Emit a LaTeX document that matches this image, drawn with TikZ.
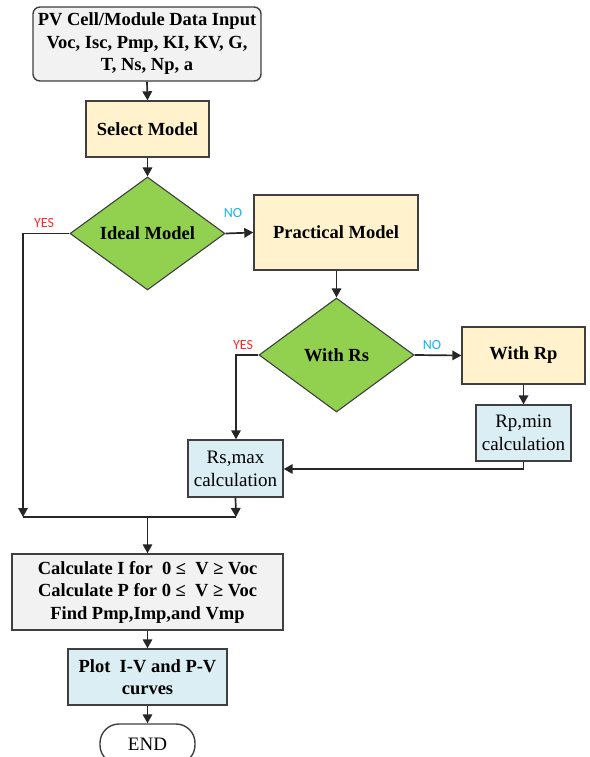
\documentclass[tikz,border=0pt]{standalone}
\usepackage{fontspec}
\setmainfont{Liberation Serif}
\newfontfamily\labfont{Carlito}
\usetikzlibrary{shapes.geometric,arrows.meta}
\definecolor{grayfill}{HTML}{F2F2F2}
\definecolor{cream}{HTML}{FFF2CC}
\definecolor{leaf}{HTML}{92D050}
\definecolor{pale}{HTML}{DAEEF3}
\definecolor{edge}{HTML}{3F3F3F}
\definecolor{yescol}{HTML}{FF2B2B}
\definecolor{nocol}{HTML}{14B4F0}
\tikzset{
  box/.style={draw=edge, line width=1.4pt, rectangle, inner sep=0pt, align=center,
    font=\fontsize{18.5}{22.5}\selectfont\bfseries},
  calcbox/.style={box, font=\fontsize{19}{23}\selectfont},
  decision/.style={draw=edge, line width=1.1pt, diamond, fill=leaf, inner sep=0pt,
    aspect=1.37, font=\fontsize{18.5}{22}\selectfont\bfseries},
  conn/.style={line width=1.7pt, draw=black!85, -{Triangle[length=9pt,width=9.5pt]}},
  plain/.style={line width=1.7pt, draw=black!85},
  yeslab/.style={text=yescol, font=\labfont\fontsize{14}{16}\selectfont},
  nolab/.style={text=nocol, font=\labfont\fontsize{14}{16}\selectfont}
}
\begin{document}
\begin{tikzpicture}[x=1pt,y=-1pt]
\useasboundingbox (0,0) rectangle (589,757);
\clip (0,0) rectangle (589,757);
\fill[white] (0,0) rectangle (589,757);

\node[box, fill=grayfill, rounded corners=7pt, minimum width=228pt, minimum height=74pt] (input) at (147,44)
  {PV Cell/Module Data Input\\Voc, Isc, Pmp, KI, KV, G,\\T, Ns, Np, a};
\node[box, fill=cream, minimum width=123pt, minimum height=56pt] (select) at (147.5,129) {Select Model};
\node[decision, minimum width=155pt, minimum height=113pt] (ideal) at (147.5,233.5) {Ideal Model};
\node[box, fill=cream, minimum width=164pt, minimum height=75pt] (practical) at (336,232.5) {Practical Model};
\node[decision, minimum width=155pt, minimum height=114pt] (withrs) at (336.5,355) {With Rs};
\node[box, fill=cream, minimum width=123pt, minimum height=57pt] (withrp) at (523.5,355.5) {With Rp};
\node[calcbox, fill=pale, minimum width=95pt, minimum height=56pt] (rpmin) at (523.5,433) {Rp,min\\calculation};
\node[calcbox, fill=pale, minimum width=95pt, minimum height=57pt] (rsmax) at (235.5,468.5) {Rs,max\\calculation};
\node[box, fill=grayfill, minimum width=271pt, minimum height=76pt] (calc) at (147.5,592)
  {Calculate I for~~0 ≤~~V ≥ Voc\\Calculate P for 0 ≤~~V ≥ Voc\\Find Pmp,Imp,and Vmp};
\node[box, fill=pale, minimum width=159pt, minimum height=56pt] (plot) at (147.5,677) {Plot~~I-V and P-V\\curves};
\node[draw=edge, line width=1.4pt, fill=white, rounded corners=19pt, minimum width=95pt, minimum height=40pt,
  inner sep=0pt, font=\fontsize{19}{22}\selectfont] (endnode) at (147.5,744) {END};

\coordinate (jl) at (23,517);
\coordinate (jr) at (236,517);
\coordinate (jm) at (147.5,517);
\coordinate (rsbend) at (236,355);
\coordinate (rpbend) at (523.5,469);

\draw[conn] (input.south) -- (select.north);
\draw[conn] (select.south) -- (ideal.north);
\draw[conn] (ideal.east) -- (practical.west);
\draw[conn] (ideal.west) -| (jl);
\draw[plain] (jl) -- (jr);
\draw[conn] (rsmax.south) -- (jr);
\draw[conn] (jm) -- (calc.north);
\draw[conn] (practical.south -| withrs.north) -- (withrs.north);
\draw[conn] (withrs.west) -- (rsbend) -- (rsmax.north -| rsbend);
\draw[conn] (withrs.east) -- (withrp.west);
\draw[conn] (withrp.south) -- (rpmin.north);
\draw[conn] (rpmin.south) -- (rpbend) -- (rsmax.east |- rpbend);
\draw[conn] (calc.south) -- (plot.north);
\draw[conn] (plot.south) -- (endnode.north);

\node[yeslab] (yes1) at (44,223) {YES};
\node[nolab] (no1) at (233,213) {NO};
\node[yeslab] (yes2) at (243,345) {YES};
\node[nolab] (no2) at (432,345) {NO};
\end{tikzpicture}
\end{document}
